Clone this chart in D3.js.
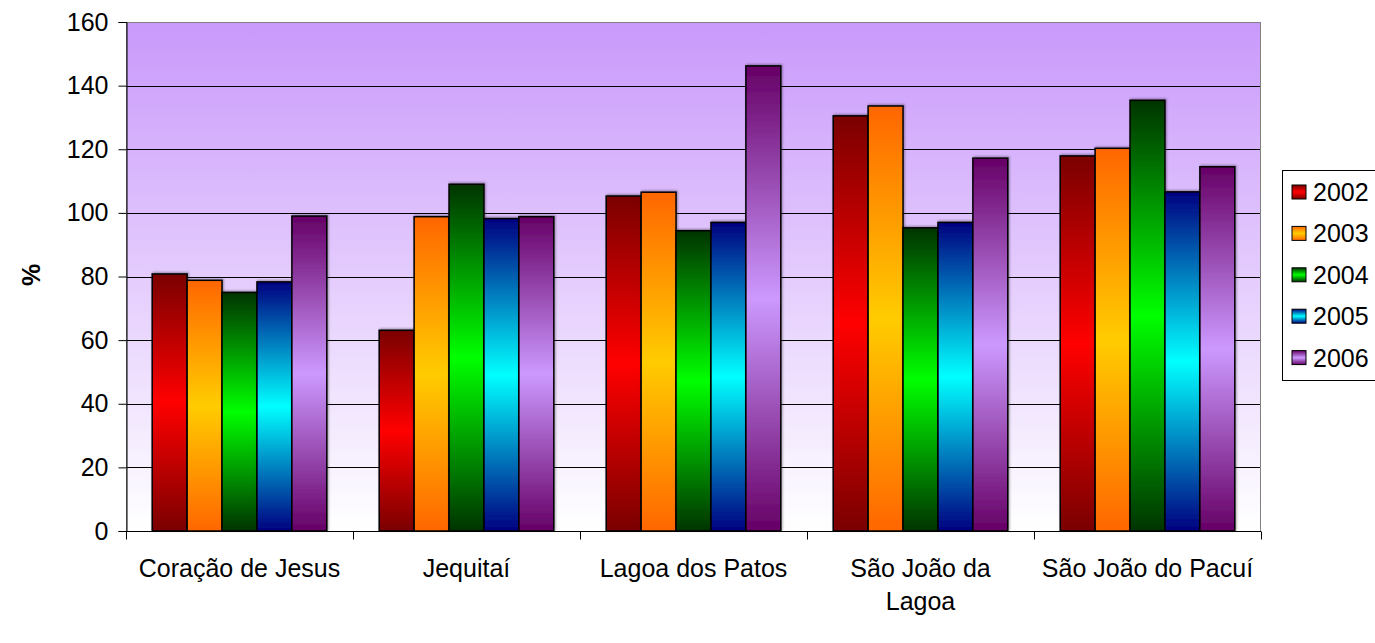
<!DOCTYPE html>
<html><head><meta charset="utf-8">
<script src="https://cdn.jsdelivr.net/npm/d3@7"></script>
<style>body{margin:0;background:#fff;} svg{display:block;font-family:"Liberation Sans",Arial,sans-serif;}</style>
</head><body>
<svg id="chart" width="1375" height="643"></svg>
<script>
const categories = [["Coração de Jesus"], ["Jequitaí"], ["Lagoa dos Patos"], ["São João da", "Lagoa"], ["São João do Pacuí"]];
const years = ["2002", "2003", "2004", "2005", "2006"];
const values2002 = [80.8, 63.1, 105.3, 130.5, 117.9];
const values2003 = [78.8, 98.8, 106.5, 133.6, 120.3];
const values2004 = [75.0, 109.0, 94.4, 95.3, 135.4];
const values2005 = [78.3, 98.2, 97.0, 97.0, 106.6];
const values2006 = [99.0, 98.8, 146.2, 117.2, 114.5];
const yTicks = [0, 20, 40, 60, 80, 100, 120, 140, 160];
const series = [values2002, values2003, values2004, values2005, values2006];
// [end color (top/bottom), center color]
const colors = [["#7a0000", "#ff0000"], ["#ff6600", "#ffcc00"], ["#003300", "#00ff00"], ["#000080", "#00ffff"], ["#660066", "#cc99ff"]];

const svg = d3.select("#chart");
const m = {left: 126, right: 1261, top: 22, bottom: 531};
const x0 = d3.scaleBand().domain(d3.range(categories.length)).range([m.left, m.right]).padding(0);
// 5 bars per group, gap width 150% of a bar
const x1 = d3.scaleBand().domain(d3.range(years.length)).range([x0.bandwidth() * 0.75 / 6.5, x0.bandwidth() * 5.75 / 6.5]).padding(0);
const y = d3.scaleLinear().domain([0, 160]).range([m.bottom, m.top]);

const defs = svg.append("defs");
const bg = defs.append("linearGradient").attr("id", "bg").attr("x1", 0).attr("y1", 0).attr("x2", 0).attr("y2", 1);
bg.append("stop").attr("offset", "0%").attr("stop-color", "#c999fb");
bg.append("stop").attr("offset", "100%").attr("stop-color", "#ffffff");
colors.forEach((c, i) => {
  const g = defs.append("linearGradient").attr("id", "g" + i).attr("x1", 0).attr("y1", 0).attr("x2", 0).attr("y2", 1);
  g.append("stop").attr("offset", "0%").attr("stop-color", c[0]);
  g.append("stop").attr("offset", "50%").attr("stop-color", c[1]);
  g.append("stop").attr("offset", "100%").attr("stop-color", c[0]);
});
const f = defs.append("filter").attr("id", "sh").attr("x", "-20%").attr("y", "-20%").attr("width", "140%").attr("height", "140%");
f.append("feDropShadow").attr("dx", 1).attr("dy", -1).attr("stdDeviation", 1).attr("flood-color", "#000").attr("flood-opacity", 0.35);

svg.append("rect").attr("x", m.left).attr("y", m.top).attr("width", m.right - m.left).attr("height", m.bottom - m.top).attr("fill", "url(#bg)");

// gridlines
svg.append("g").selectAll("line").data(yTicks.filter(d => d > 0)).join("line")
  .attr("x1", m.left).attr("x2", m.right).attr("y1", d => Math.round(y(d)) + 0.5).attr("y2", d => Math.round(y(d)) + 0.5)
  .attr("stroke", "#000").attr("stroke-width", 1);
svg.append("rect").attr("x", m.left + 0.5).attr("y", m.top + 0.5).attr("width", m.right - m.left - 1).attr("height", m.bottom - m.top)
  .attr("fill", "none").attr("stroke", "#808080").attr("stroke-width", 1);

// bars
const groups = svg.append("g").selectAll("g").data(categories.map((c, i) => i)).join("g")
  .attr("transform", i => `translate(${x0(i)},0)`);
groups.selectAll("rect").data(ci => series.map((s, si) => ({si, v: s[ci]}))).join("rect")
  .attr("x", d => x1(d.si)).attr("width", x1.bandwidth())
  .attr("y", d => y(d.v)).attr("height", d => y(0) - y(d.v))
  .attr("fill", d => `url(#g${d.si})`).attr("stroke", "#000").attr("stroke-width", 1.5)
  .attr("filter", "url(#sh)");

// y axis
const yAxis = d3.axisLeft(y).tickValues(yTicks).tickSize(8).tickPadding(10);
const ya = svg.append("g").attr("transform", `translate(${m.left + 0.5},0)`).call(yAxis);
ya.select(".domain").attr("stroke", "#000");
ya.selectAll(".tick line").attr("stroke", "#000");
ya.selectAll("text").attr("font-size", 25).attr("fill", "#000").attr("font-family", "Liberation Sans, Arial, sans-serif");

// x axis
const xa = svg.append("g").attr("transform", `translate(0,${m.bottom + 0.5})`);
xa.append("line").attr("x1", m.left).attr("x2", m.right).attr("stroke", "#000");
xa.selectAll("line.t").data(d3.range(categories.length + 1)).join("line").attr("class", "t")
  .attr("x1", i => Math.round(m.left + i * x0.bandwidth()) + 0.5).attr("x2", i => Math.round(m.left + i * x0.bandwidth()) + 0.5)
  .attr("y1", 0).attr("y2", 8).attr("stroke", "#000");
const lbl = xa.selectAll("text").data(categories.map((c, i) => i)).join("text")
  .attr("text-anchor", "middle").attr("font-size", 25).attr("fill", "#000")
  .attr("transform", i => `translate(${x0(i) + x0.bandwidth() / 2},0)`);
lbl.selectAll("tspan").data(i => categories[i]).join("tspan")
  .attr("x", 0).attr("y", (d, j) => 45 + j * 33).text(d => d);

// y title
svg.append("text").attr("transform", "translate(40,275) rotate(-90)").attr("text-anchor", "middle")
  .attr("font-size", 25).attr("font-weight", "bold").text("%");

// legend
const lg = svg.append("g");
lg.append("rect").attr("x", 1282.5).attr("y", 170.5).attr("width", 100).attr("height", 210).attr("fill", "#fff").attr("stroke", "#000");
const li = lg.selectAll("g").data(years).join("g").attr("transform", (d, i) => `translate(1292,${192 + i * 41.4})`);
li.append("rect").attr("x", 0).attr("y", -7).attr("width", 14).attr("height", 14).attr("fill", (d, i) => `url(#g${i})`).attr("stroke", "#000").attr("stroke-width", 1);
li.append("text").attr("x", 21).attr("y", 9).attr("font-size", 25).text(d => d);
</script>
</body></html>
